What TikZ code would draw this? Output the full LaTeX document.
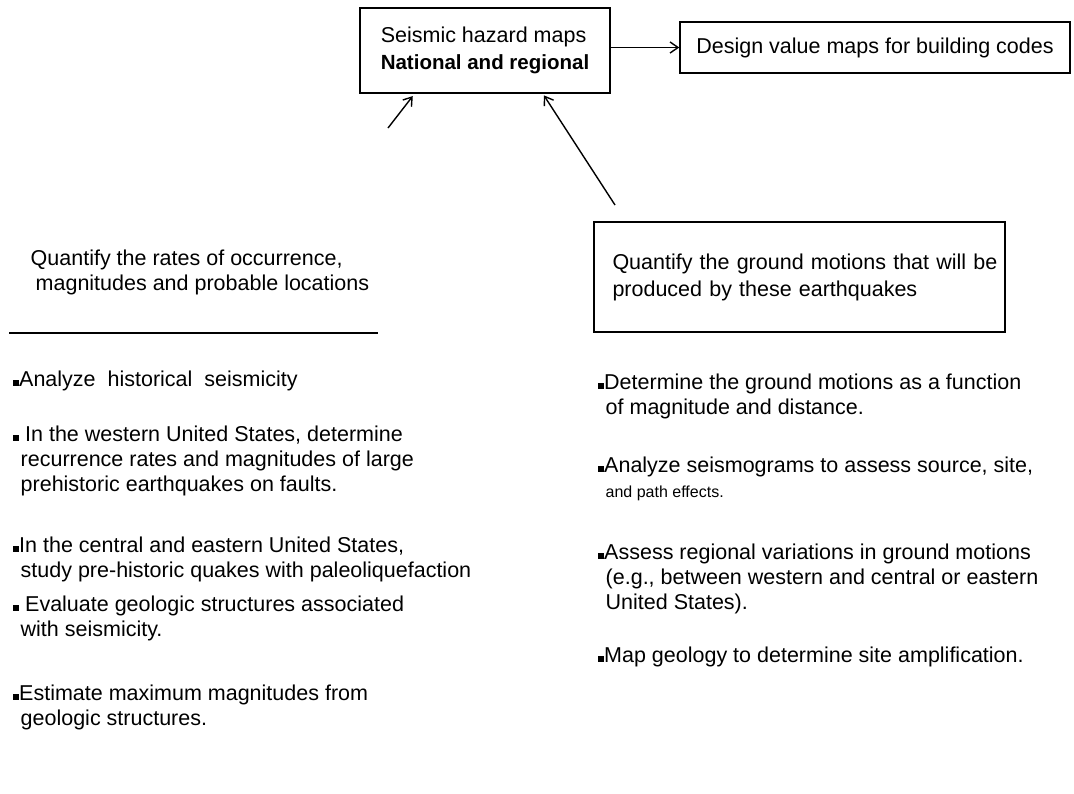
\documentclass[tikz,border=0pt]{standalone}
\usepackage{fontspec}
\setmainfont{Liberation Sans}
\usetikzlibrary{arrows.meta,calc}
\newcommand{\sqbul}{\rule{6.5pt}{6.5pt}}
\newcommand{\ind}{\hspace*{8pt}}

\begin{document}
\begin{tikzpicture}[x=1pt, y=-1pt, line width=1.4pt,
  >={Straight Barb[length=8pt,width=11pt]},
  box/.style={draw, inner sep=0pt, align=left, font=\fontsize{21.5}{27}\selectfont},
  item/.style={anchor=base west, align=left, inner sep=0pt, font=\fontsize{21.5}{25}\selectfont}]
\useasboundingbox (0,0) rectangle (1074,793);

% top row
\node[box, minimum width=250, minimum height=85] (hazard) at (485,50.5)
  {Seismic hazard maps\\{\fontsize{20.5}{27}\selectfont\bfseries National and regional}};
\node[box, minimum width=390, minimum height=51, align=center] (design) at (875,47.5)
  {Design value maps for building codes};
\draw[->] (hazard.east |- design.west) -- (design.west);

% feeding arrows
\coordinate (t1) at (388,128);
\coordinate (t2) at (615,205);
\draw[->, shorten >=3pt] (t1) -- ($(hazard.south west)!0.22!(hazard.south east)$);
\draw[->, shorten >=2pt] (t2) -- ($(hazard.south west)!0.73!(hazard.south east)$);

% left column (nodes placed at the baseline of their last line)
\node[item] (rates) at (30,290) {Quantify the rates of occurrence,\\\hspace*{5pt}magnitudes and probable locations};
\draw (9,333) -- (378,333);

\node[item] (l1) at (12,386) {\sqbul Analyze\ \ historical\ \ seismicity};
\node[item] (l2) at (12,491) {\sqbul\ In the western United States, determine\\\ind recurrence rates and magnitudes of large\\\ind prehistoric earthquakes on faults.};
\node[item] (l3) at (12,577) {\sqbul In the central and eastern United States,\\\ind study pre-historic quakes with paleoliquefaction};
\node[item] (l4) at (12,636) {\sqbul\ Evaluate geologic structures associated\\\ind with seismicity.};
\node[item] (l5) at (12,725) {\sqbul Estimate maximum magnitudes from\\\ind geologic structures.};

% right column
\node[box, minimum width=411, minimum height=110, text width=400] (ground) at (799.5,277)
  {\hspace*{13pt}Quantify the ground motions that will be\\\hspace*{13pt}produced by these earthquakes\par\vspace*{11pt}};

\node[item] (r1) at (597,414) {\sqbul Determine the ground motions as a function\\\ind of magnitude and distance.};
\node[item] (r2) at (597,497) {\sqbul Analyze seismograms to assess source, site,\\\ind{\fontsize{16}{25}\selectfont and path effects.}};
\node[item] (r3) at (597,609) {\sqbul Assess regional variations in ground motions\\\ind (e.g., between western and central or eastern\\\ind United States).};
\node[item] (r4) at (597,662) {\sqbul Map geology to determine site amplification.};
\end{tikzpicture}
\end{document}
